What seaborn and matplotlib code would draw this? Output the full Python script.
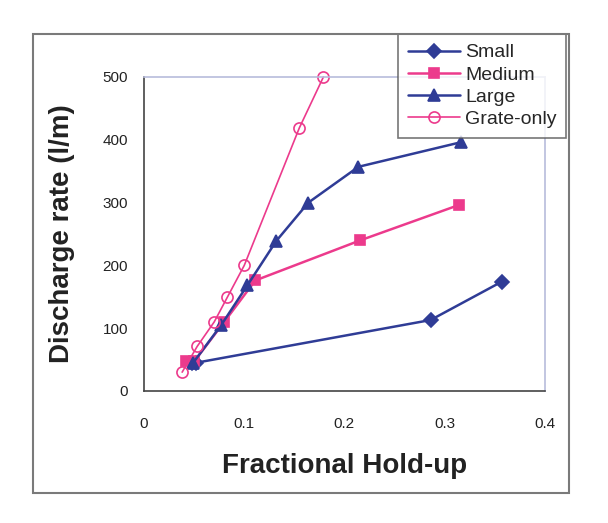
import matplotlib
matplotlib.use("Agg")
import matplotlib.pyplot as plt
import seaborn as sns
import pandas as pd
from matplotlib.patches import Rectangle

# values
small_x = [0.048, 0.052, 0.286, 0.357]
small_y = [45, 45, 113, 174]
medium_x = [0.042, 0.050, 0.080, 0.111, 0.216, 0.314]
medium_y = [47, 47, 110, 176, 240, 296]
large_x = [0.049, 0.077, 0.103, 0.132, 0.164, 0.214, 0.316]
large_y = [45, 105, 168, 239, 300, 357, 396]
grate_x = [0.038, 0.053, 0.070, 0.083, 0.100, 0.155, 0.179]
grate_y = [30, 71, 110, 149, 200, 419, 500]

x_ticks = [0, 0.1, 0.2, 0.3, 0.4]
x_labels = ["0", "0.1", "0.2", "0.3", "0.4"]
y_ticks = [0, 100, 200, 300, 400, 500]

navy = "#2F3C96"
pink = "#EC3A8C"

sns.set_style("white")
plt.rcParams["font.family"] = ["Liberation Sans", "DejaVu Sans"]

fig = plt.figure(figsize=(6.08, 5.23), dpi=100)
ax = fig.add_axes([0.237, 0.2524, 0.659, 0.6004])

series = [
    ("Small", small_x, small_y, navy, "D", navy, 7, 1.8),
    ("Medium", medium_x, medium_y, pink, "s", pink, 7.5, 1.8),
    ("Large", large_x, large_y, navy, "^", navy, 8, 1.8),
    ("Grate-only", grate_x, grate_y, pink, "o", "none", 8, 1.2),
]

for name, xs, ys, col, mk, face, ms, lw in series:
    df = pd.DataFrame({"x": xs, "y": ys})
    sns.lineplot(data=df, x="x", y="y", ax=ax, sort=False, color=col,
                 marker=mk, markersize=ms, markerfacecolor=face,
                 markeredgecolor=col, markeredgewidth=1.2, linewidth=lw,
                 label=name, clip_on=False)

ax.set_xlim(0, 0.4)
ax.set_ylim(0, 500)
ax.set_xticks(x_ticks)
ax.set_xticklabels(x_labels)
ax.set_yticks(y_ticks)
ax.tick_params(direction="inout", length=7, width=1, colors="#333333",
               labelsize=11, labelcolor="#222222")
ax.tick_params(axis="x", pad=15)
ax.tick_params(axis="y", pad=8)

for side in ["left", "bottom"]:
    ax.spines[side].set_color("#444444")
    ax.spines[side].set_linewidth(1.2)
for side in ["top", "right"]:
    ax.spines[side].set_color("#B8BCDC")
    ax.spines[side].set_linewidth(1.2)

ax.set_xlabel("Fractional Hold-up", fontsize=20, fontweight="bold",
              labelpad=16, color="#222222")
ax.set_ylabel("Discharge rate (l/m)", fontsize=20, fontweight="bold",
              labelpad=20, color="#222222")

# outer chart frame
fig.patches.append(Rectangle((33 / 608, 1 - 493 / 523), 536 / 608, 459 / 523,
                             transform=fig.transFigure, fill=False,
                             edgecolor="#7A7A7A", linewidth=1.5, zorder=0))

leg = ax.legend(loc="upper left", bbox_to_anchor=(398 / 608, 1 - 34 / 523),
                bbox_transform=fig.transFigure, frameon=True, fancybox=False,
                edgecolor="#555555", fontsize=14, handlelength=2.7,
                borderpad=0.5, labelspacing=0.24, handletextpad=0.25,
                borderaxespad=0)
leg.get_frame().set_linewidth(1.2)
leg.set_zorder(5)

fig.savefig("out.png", dpi=100)
